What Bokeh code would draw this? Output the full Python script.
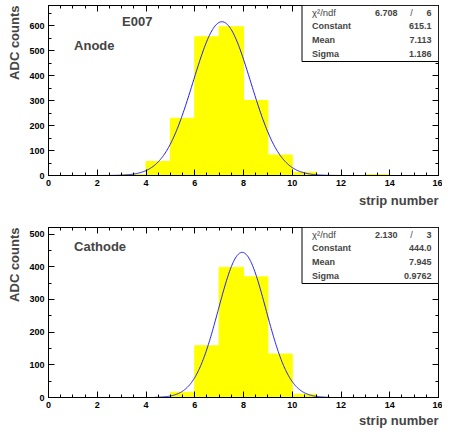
import numpy as np
from bokeh.plotting import figure
from bokeh.layouts import column
from bokeh.models import Range1d, LinearAxis, Label, BoxAnnotation, SingleIntervalTicker, Title
from bokeh.embed import file_html
from bokeh.resources import INLINE

# ---- data ----
bin_left = list(range(16))
bin_right = [b + 1 for b in bin_left]
anode_counts = [0, 0, 0, 4, 56, 229, 555, 595, 300, 82, 13, 0, 0, 4, 0, 0]
cathode_counts = [0, 0, 0, 0, 0, 16, 158, 398, 369, 133, 10, 0, 0, 0, 0, 0]

anode_fit = dict(constant=615.1, mean=7.113, sigma=1.186, chi2="6.708", ndf="6",
                 consts="615.1", means="7.113", sigmas="1.186", lo=2.113, hi=12.113)
cathode_fit = dict(constant=444.0, mean=7.945, sigma=0.9762, chi2="2.130", ndf="3",
                   consts="444.0", means="7.945", sigmas="0.9762", lo=4.345, hi=11.545)

x_title = "strip number"
y_title = "ADC counts"

FONT = "Liberation Sans"
FW, FH = 390, 170
XMAX = 16


def make_panel(counts, fit, ymax, name, extra=None, top_border=0, bottom_border=38, xlab_standoff=4):
    p = figure(frame_width=FW, frame_height=FH, output_backend="svg", toolbar_location=None,
               x_range=Range1d(0, XMAX), y_range=Range1d(0, ymax),
               min_border_left=44, min_border_right=4, min_border_top=top_border,
               min_border_bottom=bottom_border)
    p.background_fill_color = "white"
    p.border_fill_color = "white"
    p.outline_line_color = "black"
    p.xgrid.visible = False
    p.ygrid.visible = False

    p.quad(left=bin_left, right=bin_right, bottom=0, top=counts,
           fill_color="#ffff00", line_color="#ffff00", line_width=1)

    xs = np.linspace(fit["lo"], fit["hi"], 300)
    ys = fit["constant"] * np.exp(-0.5 * ((xs - fit["mean"]) / fit["sigma"]) ** 2)
    p.line(xs, ys, line_color="#2020ff", line_width=1)

    def style(ax, labels=True):
        ax.major_tick_in = 6
        ax.major_tick_out = 0
        ax.minor_tick_in = 3
        ax.minor_tick_out = 0
        ax.major_tick_line_color = "black"
        ax.minor_tick_line_color = "black"
        ax.axis_line_color = "black"
        if labels:
            ax.major_label_text_font = FONT
            ax.major_label_text_font_style = "bold"
            ax.major_label_text_font_size = "9px"
            ax.major_label_text_color = "black"
            ax.major_label_standoff = 4
        else:
            ax.major_label_text_font_size = "0px"
            ax.major_label_text_color = None
            ax.major_label_standoff = 0

    xa = p.xaxis[0]
    xa.ticker = SingleIntervalTicker(interval=2, num_minor_ticks=4)
    style(xa)

    ya = p.yaxis[0]
    ya.ticker = SingleIntervalTicker(interval=100, num_minor_ticks=2)
    style(ya)

    top_ax = LinearAxis(ticker=SingleIntervalTicker(interval=2, num_minor_ticks=4))
    style(top_ax, labels=False)
    p.add_layout(top_ax, "above")
    right_ax = LinearAxis(ticker=SingleIntervalTicker(interval=100, num_minor_ticks=2))
    style(right_ax, labels=False)
    p.add_layout(right_ax, "right")

    # axis titles (ROOT style: aligned to the axis end)
    p.add_layout(Title(text=x_title, align="right", text_font=FONT, text_font_style="bold",
                       text_font_size="13px", standoff=xlab_standoff, offset=0), "below")
    p.add_layout(Title(text=y_title, align="right", text_font=FONT, text_font_style="bold",
                       text_font_size="13px", standoff=9, offset=0), "left")

    # pixel -> data helpers
    dy = ymax / FH
    dx = XMAX / FW

    # stats box
    box_left = 10.4
    p.add_layout(BoxAnnotation(left=box_left, right=XMAX, top=ymax, bottom=ymax - 56 * dy,
                               fill_color="white", fill_alpha=1.0,
                               line_color="black", line_width=1, line_alpha=1.0))
    rows = [("Constant", fit["consts"]), ("Mean", fit["means"]), ("Sigma", fit["sigmas"])]
    lx = box_left + 10 * dx
    rx = XMAX - 7 * dx
    p.add_layout(Label(x=lx, y=ymax - 7 * dy, text="χ²/ndf", text_font=FONT,
                       text_font_size="9.5px", text_baseline="middle", text_align="left"))
    p.add_layout(Label(x=XMAX - 41 * dx, y=ymax - 7 * dy, text=fit["chi2"], text_font=FONT,
                       text_font_style="bold", text_font_size="9px",
                       text_baseline="middle", text_align="right"))
    p.add_layout(Label(x=XMAX - 27 * dx, y=ymax - 7 * dy, text="/", text_font=FONT,
                       text_font_size="9px", text_baseline="middle", text_align="center"))
    p.add_layout(Label(x=rx, y=ymax - 7 * dy, text=fit["ndf"], text_font=FONT,
                       text_font_style="bold", text_font_size="9px",
                       text_baseline="middle", text_align="right"))
    for i, (k, v) in enumerate(rows):
        yy = ymax - (20 + 14 * i) * dy
        p.add_layout(Label(x=lx, y=yy, text=k, text_font=FONT, text_font_style="bold",
                           text_font_size="9px", text_baseline="middle", text_align="left"))
        p.add_layout(Label(x=rx, y=yy, text=v, text_font=FONT, text_font_style="bold",
                           text_font_size="9px", text_baseline="middle", text_align="right"))

    if extra is not None:
        p.add_layout(Label(x=3.64, y=ymax - 16 * dy, text=extra, text_font=FONT,
                           text_font_style="bold", text_font_size="13px",
                           text_baseline="middle", text_align="center"))
    name_y = 40 if extra is not None else 19
    p.add_layout(Label(x=1.05, y=ymax - name_y * dy, text=name, text_font=FONT,
                       text_font_style="bold", text_font_size="13px",
                       text_baseline="middle", text_align="left"))
    return p


p1 = make_panel(anode_counts, anode_fit, 680, "Anode", extra="E007", top_border=5,
                bottom_border=40, xlab_standoff=4)
p2 = make_panel(cathode_counts, cathode_fit, 520, "Cathode", top_border=12,
                bottom_border=32, xlab_standoff=0)

layout = column(p1, p2, spacing=0)
open("out.html", "w").write(file_html(layout, INLINE))
